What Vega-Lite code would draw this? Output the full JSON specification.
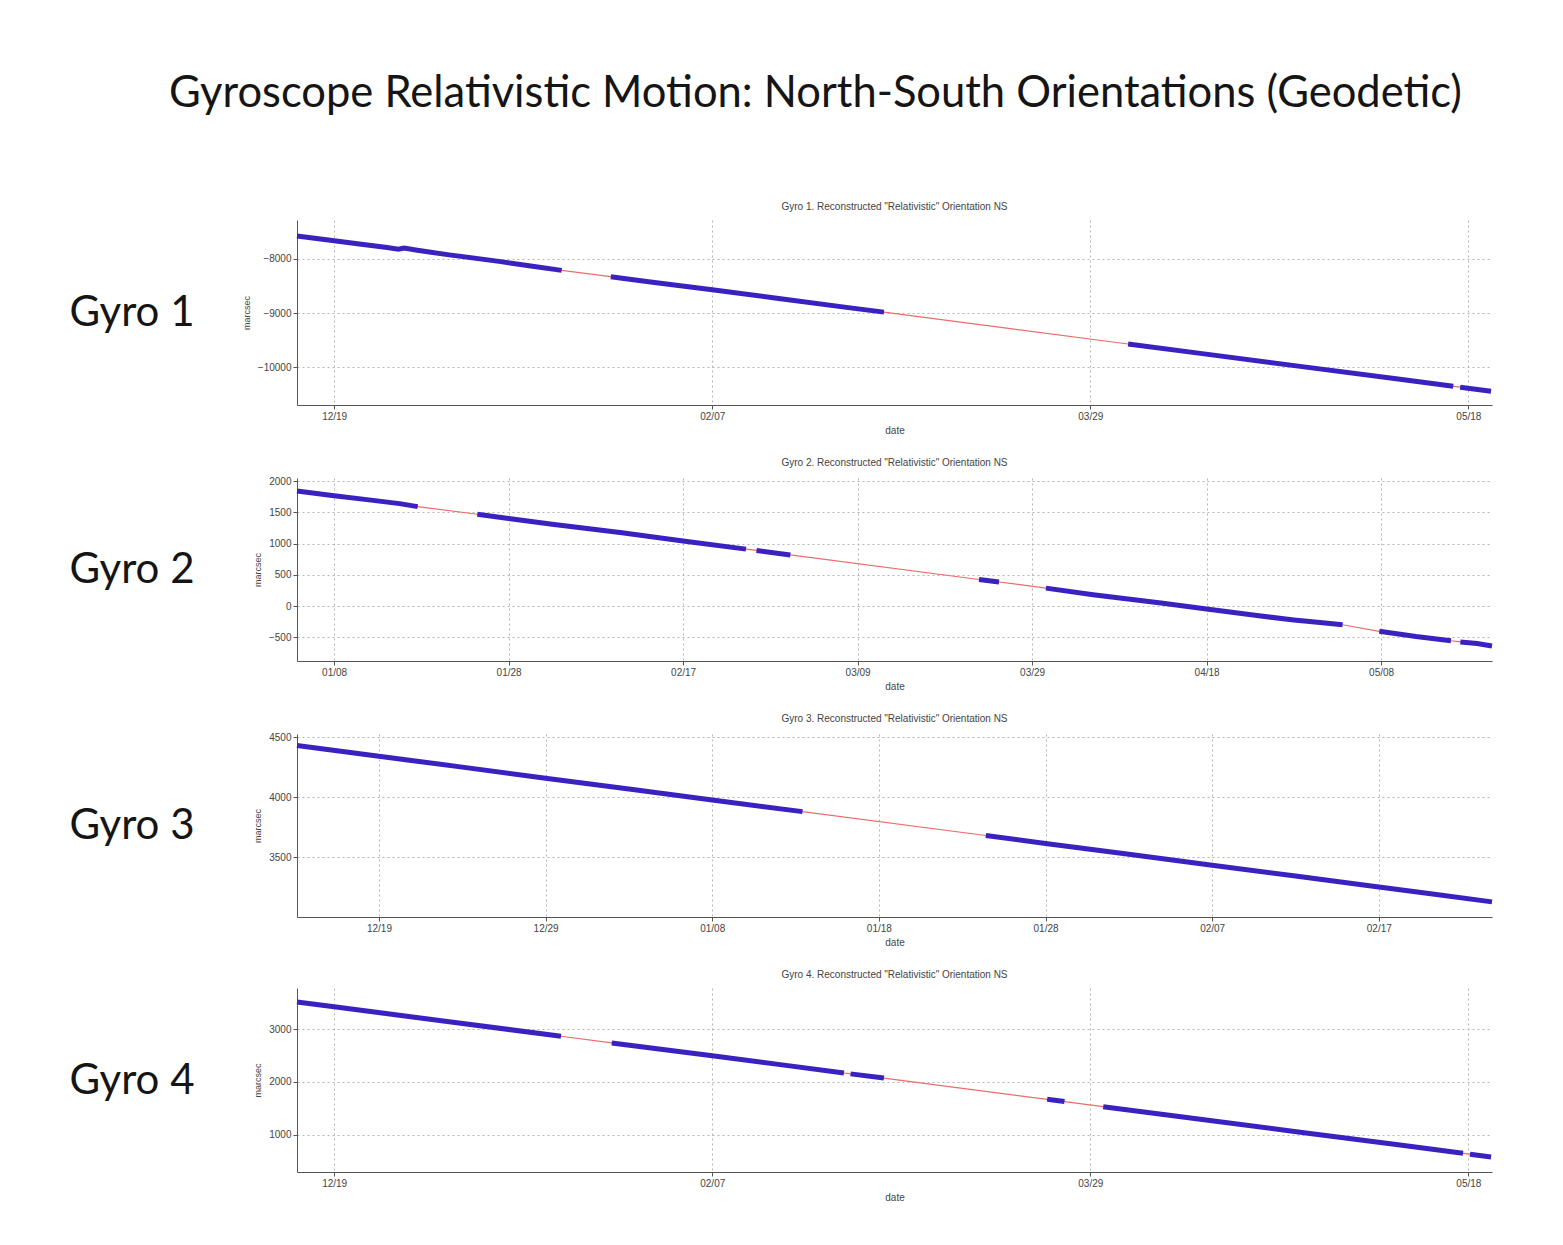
{
  "$schema": "https://vega.github.io/schema/vega-lite/v6.json",
  "background": "white",
  "padding": {"left": 69, "top": 71, "right": 10, "bottom": 10},
  "title": {
    "text": "Gyroscope Relativistic Motion: North-South Orientations (Geodetic)",
    "font": "Lato", "fontSize": 43.5, "fontWeight": "normal", "color": "#151515",
    "anchor": "middle", "offset": 86, "dx": 30
  },
  "config": {
    "font": "Liberation Sans",
    "view": {"stroke": null},
    "title": {"fontSize": 10, "fontWeight": "normal", "color": "#444", "offset": 8, "font": "Liberation Sans"},
    "axis": {
      "domainColor": "#555", "tickColor": "#555", "tickSize": 4,
      "labelColor": "#444", "labelFontSize": 10, "labelFont": "Liberation Sans",
      "titleColor": "#444", "titleFontSize": 10, "titleFontWeight": "normal", "titleFont": "Liberation Sans",
      "gridColor": "#b5b5b5", "gridDash": [2, 3], "gridWidth": 1
    },
    "line": {"interpolate": "linear"}
  },
  "datasets": {
    "g1": [
      {"d": "2004-12-14T02:00", "v": -7574, "s": 1},
      {"d": "2004-12-19T00:00", "v": -7663, "s": 1},
      {"d": "2004-12-22T08:00", "v": -7722, "s": 1},
      {"d": "2004-12-26T00:00", "v": -7790, "s": 1},
      {"d": "2004-12-27T12:00", "v": -7820, "s": 1},
      {"d": "2004-12-28T06:00", "v": -7800, "s": 1},
      {"d": "2004-12-30T00:00", "v": -7840, "s": 1},
      {"d": "2005-01-03T05:00", "v": -7925, "s": 1},
      {"d": "2005-01-09T19:00", "v": -8045, "s": 1},
      {"d": "2005-01-14T00:00", "v": -8130, "s": 1},
      {"d": "2005-01-18T02:00", "v": -8211, "s": 1},
      {"d": "2005-01-24T14:00", "v": -8328, "s": 2},
      {"d": "2005-01-29T14:00", "v": -8420, "s": 2},
      {"d": "2005-02-07T00:00", "v": -8570, "s": 2},
      {"d": "2005-02-15T19:00", "v": -8731, "s": 2},
      {"d": "2005-02-25T00:00", "v": -8900, "s": 2},
      {"d": "2005-03-01T17:00", "v": -8983, "s": 2},
      {"d": "2005-04-03T00:00", "v": -9572, "s": 3},
      {"d": "2005-04-12T07:00", "v": -9741, "s": 3},
      {"d": "2005-04-25T12:00", "v": -9981, "s": 3},
      {"d": "2005-05-08T17:00", "v": -10220, "s": 3},
      {"d": "2005-05-16T00:00", "v": -10354, "s": 3},
      {"d": "2005-05-16T22:00", "v": -10370, "s": 4},
      {"d": "2005-05-21T00:00", "v": -10444, "s": 4}
    ],
    "g2": [
      {"d": "2005-01-03T18:00", "v": 1843, "s": 1},
      {"d": "2005-01-08T00:00", "v": 1767, "s": 1},
      {"d": "2005-01-12T00:00", "v": 1700, "s": 1},
      {"d": "2005-01-15T12:00", "v": 1640, "s": 1},
      {"d": "2005-01-17T14:00", "v": 1592, "s": 1},
      {"d": "2005-01-24T10:00", "v": 1470, "s": 2},
      {"d": "2005-01-28T00:00", "v": 1400, "s": 2},
      {"d": "2005-02-02T00:00", "v": 1310, "s": 2},
      {"d": "2005-02-10T00:00", "v": 1173, "s": 2},
      {"d": "2005-02-17T00:00", "v": 1040, "s": 2},
      {"d": "2005-02-24T05:00", "v": 911, "s": 2},
      {"d": "2005-02-25T10:00", "v": 890, "s": 3},
      {"d": "2005-03-01T07:00", "v": 818, "s": 3},
      {"d": "2005-03-22T22:00", "v": 425, "s": 4},
      {"d": "2005-03-25T05:00", "v": 385, "s": 4},
      {"d": "2005-03-30T14:00", "v": 287, "s": 5},
      {"d": "2005-04-05T00:00", "v": 182, "s": 5},
      {"d": "2005-04-09T00:00", "v": 112, "s": 5},
      {"d": "2005-04-13T00:00", "v": 45, "s": 5},
      {"d": "2005-04-18T00:00", "v": -46, "s": 5},
      {"d": "2005-04-24T00:00", "v": -157, "s": 5},
      {"d": "2005-04-28T00:00", "v": -222, "s": 5},
      {"d": "2005-05-01T00:00", "v": -262, "s": 5},
      {"d": "2005-05-03T14:00", "v": -300, "s": 5},
      {"d": "2005-05-07T19:00", "v": -405, "s": 6},
      {"d": "2005-05-12T00:00", "v": -489, "s": 6},
      {"d": "2005-05-16T00:00", "v": -556, "s": 6},
      {"d": "2005-05-17T02:00", "v": -574, "s": 7},
      {"d": "2005-05-19T00:00", "v": -600, "s": 7},
      {"d": "2005-05-20T17:00", "v": -641, "s": 7}
    ],
    "g3": [
      {"d": "2004-12-14T02:00", "v": 4429, "s": 1},
      {"d": "2004-12-19T00:00", "v": 4339, "s": 1},
      {"d": "2004-12-24T00:00", "v": 4249, "s": 1},
      {"d": "2004-12-29T00:00", "v": 4157, "s": 1},
      {"d": "2005-01-03T00:00", "v": 4067, "s": 1},
      {"d": "2005-01-08T00:00", "v": 3975, "s": 1},
      {"d": "2005-01-13T10:00", "v": 3878, "s": 1},
      {"d": "2005-01-24T10:00", "v": 3679, "s": 2},
      {"d": "2005-01-28T00:00", "v": 3613, "s": 2},
      {"d": "2005-02-02T00:00", "v": 3523, "s": 2},
      {"d": "2005-02-07T00:00", "v": 3431, "s": 2},
      {"d": "2005-02-12T00:00", "v": 3341, "s": 2},
      {"d": "2005-02-17T00:00", "v": 3250, "s": 2},
      {"d": "2005-02-20T00:00", "v": 3195, "s": 2},
      {"d": "2005-02-23T19:00", "v": 3126, "s": 2}
    ],
    "g4": [
      {"d": "2004-12-14T02:00", "v": 3510, "s": 1},
      {"d": "2004-12-19T00:00", "v": 3419, "s": 1},
      {"d": "2005-01-03T05:00", "v": 3138, "s": 1},
      {"d": "2005-01-18T00:00", "v": 2864, "s": 1},
      {"d": "2005-01-24T17:00", "v": 2738, "s": 2},
      {"d": "2005-02-07T00:00", "v": 2494, "s": 2},
      {"d": "2005-02-16T00:00", "v": 2328, "s": 2},
      {"d": "2005-02-24T10:00", "v": 2170, "s": 2},
      {"d": "2005-02-25T07:00", "v": 2153, "s": 3},
      {"d": "2005-03-01T17:00", "v": 2074, "s": 3},
      {"d": "2005-03-23T07:00", "v": 1672, "s": 4},
      {"d": "2005-03-25T14:00", "v": 1630, "s": 4},
      {"d": "2005-03-30T17:00", "v": 1534, "s": 5},
      {"d": "2005-04-12T07:00", "v": 1302, "s": 5},
      {"d": "2005-04-25T12:00", "v": 1057, "s": 5},
      {"d": "2005-05-08T17:00", "v": 813, "s": 5},
      {"d": "2005-05-17T07:00", "v": 653, "s": 5},
      {"d": "2005-05-18T05:00", "v": 636, "s": 6},
      {"d": "2005-05-21T00:00", "v": 585, "s": 6}
    ]
  },
  "spacing": 23,
  "vconcat": [
    {
      "width": 1195, "height": 185,
      "title": "Gyro 1. Reconstructed \"Relativistic\" Orientation NS",
      "data": {"name": "g1"},
      "encoding": {
        "x": {"field": "d", "type": "temporal",
          "scale": {"domain": [{"year": 2004, "month": 12, "date": 14, "hours": 2}, {"year": 2005, "month": 5, "date": 21, "hours": 3}]},
          "axis": {"title": "date", "format": "%m/%d", "grid": true, "titlePadding": 4,
            "values": [{"year": 2004, "month": 12, "date": 19}, {"year": 2005, "month": 2, "date": 7}, {"year": 2005, "month": 3, "date": 29}, {"year": 2005, "month": 5, "date": 18}]}}
      },
      "layer": [
        {"mark": {"type": "line", "color": "#ee6b6b", "strokeWidth": 1.2},
         "encoding": {"y": {"field": "v", "type": "quantitative", "scale": {"domain": [-10700, -7280], "nice": false, "zero": false},
           "axis": {"orient": "left", "title": "marcsec", "titleFontSize": 9, "format": "d", "grid": true, "values": [-10000, -9000, -8000], "titlePadding": 6}}}},
        {"mark": {"type": "line", "color": "#3a22c0", "strokeWidth": 5},
         "encoding": {"detail": {"field": "s"}, "y": {"field": "v", "type": "quantitative",
           "axis": {"orient": "left", "title": "Gyro 1", "labels": false, "ticks": false, "domain": false, "grid": false, "titleAngle": 0, "titleAlign": "right", "titleBaseline": "middle", "titleFont": "Lato", "titleFontSize": 42, "titleColor": "#151515", "titlePadding": 103}}}}
      ],
      "resolve": {"axis": {"y": "independent"}}
    },
    {
      "width": 1195, "height": 183,
      "title": "Gyro 2. Reconstructed \"Relativistic\" Orientation NS",
      "data": {"name": "g2"},
      "encoding": {
        "x": {"field": "d", "type": "temporal",
          "scale": {"domain": [{"year": 2005, "month": 1, "date": 3, "hours": 18}, {"year": 2005, "month": 5, "date": 20, "hours": 17}]},
          "axis": {"title": "date", "format": "%m/%d", "grid": true, "titlePadding": 4,
            "values": [{"year": 2005, "month": 1, "date": 8}, {"year": 2005, "month": 1, "date": 28}, {"year": 2005, "month": 2, "date": 17}, {"year": 2005, "month": 3, "date": 9}, {"year": 2005, "month": 3, "date": 29}, {"year": 2005, "month": 4, "date": 18}, {"year": 2005, "month": 5, "date": 8}]}}
      },
      "layer": [
        {"mark": {"type": "line", "color": "#ee6b6b", "strokeWidth": 1.2},
         "encoding": {"y": {"field": "v", "type": "quantitative", "scale": {"domain": [-880, 2050], "nice": false, "zero": false},
           "axis": {"orient": "left", "title": "marcsec", "titleFontSize": 9, "format": "d", "grid": true, "values": [-500, 0, 500, 1000, 1500, 2000], "titlePadding": 6}}}},
        {"mark": {"type": "line", "color": "#3a22c0", "strokeWidth": 5},
         "encoding": {"detail": {"field": "s"}, "y": {"field": "v", "type": "quantitative",
           "axis": {"orient": "left", "title": "Gyro 2", "labels": false, "ticks": false, "domain": false, "grid": false, "titleAngle": 0, "titleAlign": "right", "titleBaseline": "middle", "titleFont": "Lato", "titleFontSize": 42, "titleColor": "#151515", "titlePadding": 103}}}}
      ],
      "resolve": {"axis": {"y": "independent"}}
    },
    {
      "width": 1195, "height": 183,
      "title": "Gyro 3. Reconstructed \"Relativistic\" Orientation NS",
      "data": {"name": "g3"},
      "encoding": {
        "x": {"field": "d", "type": "temporal",
          "scale": {"domain": [{"year": 2004, "month": 12, "date": 14, "hours": 2}, {"year": 2005, "month": 2, "date": 23, "hours": 19}]},
          "axis": {"title": "date", "format": "%m/%d", "grid": true, "titlePadding": 4,
            "values": [{"year": 2004, "month": 12, "date": 19}, {"year": 2004, "month": 12, "date": 29}, {"year": 2005, "month": 1, "date": 8}, {"year": 2005, "month": 1, "date": 18}, {"year": 2005, "month": 1, "date": 28}, {"year": 2005, "month": 2, "date": 7}, {"year": 2005, "month": 2, "date": 17}]}}
      },
      "layer": [
        {"mark": {"type": "line", "color": "#ee6b6b", "strokeWidth": 1.2},
         "encoding": {"y": {"field": "v", "type": "quantitative", "scale": {"domain": [3000, 4525], "nice": false, "zero": false},
           "axis": {"orient": "left", "title": "marcsec", "titleFontSize": 9, "format": "d", "grid": true, "values": [3500, 4000, 4500], "titlePadding": 6}}}},
        {"mark": {"type": "line", "color": "#3a22c0", "strokeWidth": 5},
         "encoding": {"detail": {"field": "s"}, "y": {"field": "v", "type": "quantitative",
           "axis": {"orient": "left", "title": "Gyro 3", "labels": false, "ticks": false, "domain": false, "grid": false, "titleAngle": 0, "titleAlign": "right", "titleBaseline": "middle", "titleFont": "Lato", "titleFontSize": 42, "titleColor": "#151515", "titlePadding": 103}}}}
      ],
      "resolve": {"axis": {"y": "independent"}}
    },
    {
      "width": 1195, "height": 184,
      "title": "Gyro 4. Reconstructed \"Relativistic\" Orientation NS",
      "data": {"name": "g4"},
      "encoding": {
        "x": {"field": "d", "type": "temporal",
          "scale": {"domain": [{"year": 2004, "month": 12, "date": 14, "hours": 2}, {"year": 2005, "month": 5, "date": 21, "hours": 3}]},
          "axis": {"title": "date", "format": "%m/%d", "grid": true, "titlePadding": 4,
            "values": [{"year": 2004, "month": 12, "date": 19}, {"year": 2005, "month": 2, "date": 7}, {"year": 2005, "month": 3, "date": 29}, {"year": 2005, "month": 5, "date": 18}]}}
      },
      "layer": [
        {"mark": {"type": "line", "color": "#ee6b6b", "strokeWidth": 1.2},
         "encoding": {"y": {"field": "v", "type": "quantitative", "scale": {"domain": [300, 3775], "nice": false, "zero": false},
           "axis": {"orient": "left", "title": "marcsec", "titleFontSize": 9, "format": "d", "grid": true, "values": [1000, 2000, 3000], "titlePadding": 6}}}},
        {"mark": {"type": "line", "color": "#3a22c0", "strokeWidth": 5},
         "encoding": {"detail": {"field": "s"}, "y": {"field": "v", "type": "quantitative",
           "axis": {"orient": "left", "title": "Gyro 4", "labels": false, "ticks": false, "domain": false, "grid": false, "titleAngle": 0, "titleAlign": "right", "titleBaseline": "middle", "titleFont": "Lato", "titleFontSize": 42, "titleColor": "#151515", "titlePadding": 103}}}}
      ],
      "resolve": {"axis": {"y": "independent"}}
    }
  ]
}
